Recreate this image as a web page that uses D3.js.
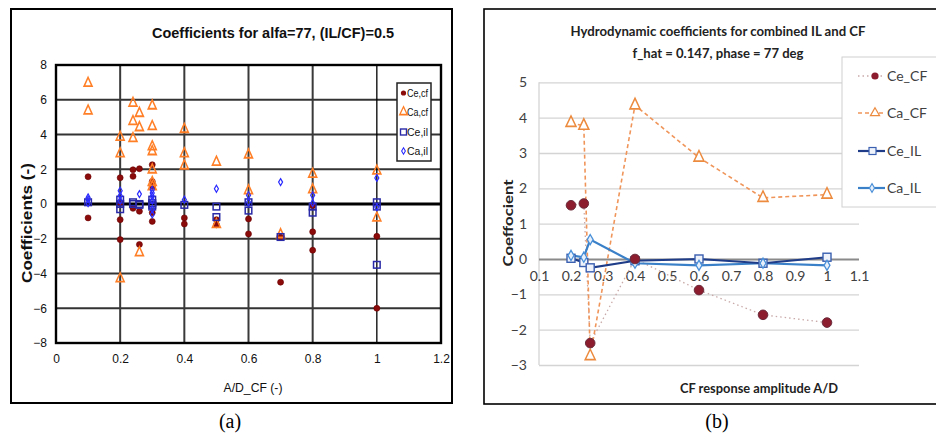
<!DOCTYPE html>
<html><head><meta charset="utf-8">
<script src="https://cdn.jsdelivr.net/npm/d3@7"></script>
<style>body{margin:0;background:#fff}svg{display:block}</style>
</head><body>
<script>
// ---------- Panel (a) data ----------
const aXTicks = [0, 0.2, 0.4, 0.6, 0.8, 1, 1.2];
const aYTicks = [-8, -6, -4, -2, 0, 2, 4, 6, 8];
const aCeCf = [[0.1,1.57],[0.1,-0.8],[0.2,1.51],[0.2,-0.9],[0.2,-2.05],[0.2,0.05],
  [0.24,1.97],[0.24,1.59],[0.24,-0.25],[0.26,2.03],[0.26,-2.33],[0.26,-0.42],
  [0.3,2.26],[0.3,1.3],[0.3,1.0],[0.3,-1.0],[0.3,-0.5],[0.4,-0.8],[0.4,-1.15],
  [0.5,-0.9],[0.5,-1.2],[0.6,-0.86],[0.6,-1.72],[0.7,-4.5],[0.7,-1.9],
  [0.8,-1.6],[0.8,-2.66],[0.8,-0.1],[1.0,-1.86],[1.0,-6.0]];
const aCaCf = [[0.1,6.95],[0.1,5.36],[0.2,3.85],[0.2,2.9],[0.2,-4.3],
  [0.24,5.8],[0.24,4.75],[0.24,3.77],[0.26,5.22],[0.26,4.4],[0.26,-2.8],
  [0.3,5.65],[0.3,4.46],[0.3,3.3],[0.3,3.02],[0.3,1.97],[0.3,1.24],[0.3,1.0],
  [0.4,4.3],[0.4,2.9],[0.4,2.2],[0.5,2.41],[0.5,-1.18],[0.6,2.83],[0.6,0.77],
  [0.7,-1.76],[0.8,1.72],[0.8,0.82],[1.0,1.9],[1.0,-0.8]];
const aCeIl = [[0.1,0.1],[0.2,0.25],[0.2,-0.3],[0.2,0.0],[0.24,0.1],[0.24,0.0],
  [0.26,0.0],[0.26,-0.05],[0.3,0.25],[0.3,0.05],[0.3,-0.15],[0.3,-0.05],
  [0.4,-0.05],[0.5,-0.15],[0.5,-0.75],[0.6,0.1],[0.6,-0.38],[0.7,-1.9],
  [0.8,-0.5],[0.8,-0.15],[1.0,0.1],[1.0,-3.5],[1.0,-0.15]];
const aCaIl = [[0.1,0.38],[0.1,0.25],[0.1,0.05],[0.2,0.76],[0.2,0.48],[0.2,0.2],
  [0.26,0.57],[0.3,0.82],[0.3,0.63],[0.3,0.44],[0.3,0.2],[0.3,-0.3],[0.3,-0.6],
  [0.4,0.25],[0.5,0.88],[0.6,0.5],[0.6,0.1],[0.7,1.26],[0.8,0.5],[0.8,0.05],
  [1.0,1.5],[1.0,-0.17]];
const aLegend = ["Ce,cf", "Ca,cf", "Ce,il", "Ca,il"];

// ---------- Panel (b) data ----------
const bXTicks = [0.1,0.2,0.3,0.4,0.5,0.6,0.7,0.8,0.9,1,1.1];
const bYTicks = [-3,-2,-1,0,1,2,3,4,5];
const bX = [0.2, 0.24, 0.26, 0.4, 0.6, 0.8, 1.0];
const bCeCF = [1.52, 1.57, -2.38, 0.0, -0.88, -1.58, -1.8];
const bCaCF = [3.85, 3.77, -2.75, 4.35, 2.87, 1.73, 1.82];
const bCeIL = [0.02, -0.1, -0.25, -0.05, 0.0, -0.12, 0.05];
const bCaIL = [0.1, 0.05, 0.55, -0.12, -0.18, -0.12, -0.18];
const bLegend = ["Ce_CF", "Ca_CF", "Ce_IL", "Ca_IL"];

const svg = d3.select("body").append("svg").attr("width", 936).attr("height", 435);

// ================= Panel (a) =================
const A = svg.append("g");
A.append("rect").attr("x", 11).attr("y", 9).attr("width", 441).attr("height", 394)
  .attr("fill", "#fff").attr("stroke", "#000").attr("stroke-width", 2);
const xA = d3.scaleLinear().domain([0, 1.2]).range([56, 441]);
const yA = d3.scaleLinear().domain([-8, 8]).range([343, 65]);

// gridlines
A.append("g").selectAll("line").data(aYTicks.filter(d => d > -8 && d < 8)).join("line")
  .attr("x1", xA(0)).attr("x2", xA(1.2)).attr("y1", d => yA(d)).attr("y2", d => yA(d))
  .attr("stroke", d => d === 0 ? "#000" : "#333").attr("stroke-width", d => d === 0 ? 3 : 2);
A.append("g").selectAll("line").data(aXTicks.filter(d => d > 0 && d < 1.2)).join("line")
  .attr("x1", d => xA(d)).attr("x2", d => xA(d)).attr("y1", yA(8)).attr("y2", yA(-8))
  .attr("stroke", d => d === 1 ? "#000" : "#3a3a3a").attr("stroke-width", d => d === 1 ? 1.3 : 2);
A.append("rect").attr("x", xA(0)).attr("y", yA(8)).attr("width", xA(1.2) - xA(0)).attr("height", yA(-8) - yA(8))
  .attr("fill", "none").attr("stroke", "#000").attr("stroke-width", 2.4);

// axes (labels only)
const axAy = A.append("g").attr("transform", `translate(${xA(0)},0)`)
  .call(d3.axisLeft(yA).tickValues(aYTicks).tickSize(0).tickPadding(9).tickFormat(d3.format("d")));
const axAx = A.append("g").attr("transform", `translate(0,${yA(-8)})`)
  .call(d3.axisBottom(xA).tickValues(aXTicks).tickSize(0).tickPadding(11).tickFormat(d => String(d)));
[axAy, axAx].forEach(g => {
  g.select(".domain").remove();
  g.selectAll("text").attr("font-family", "Liberation Sans, Arial, sans-serif").attr("font-size", 12).attr("fill", "#111");
});

// marks
const symTri = d3.symbol().type(d3.symbolTriangle);
A.append("g").selectAll("circle").data(aCeCf).join("circle")
  .attr("cx", d => xA(d[0])).attr("cy", d => yA(d[1])).attr("r", 3)
  .attr("fill", "#8b0a0a").attr("stroke", "#6b0000").attr("stroke-width", 0.6);
A.append("g").selectAll("path").data(aCaCf).join("path")
  .attr("d", symTri.size(34)).attr("transform", d => `translate(${xA(d[0])},${yA(d[1])}) scale(0.9,1.15)`)
  .attr("fill", "none").attr("stroke", "#ff7f27").attr("stroke-width", 1.6);
A.append("g").selectAll("rect").data(aCeIl).join("rect")
  .attr("x", d => xA(d[0]) - 3.3).attr("y", d => yA(d[1]) - 3.3).attr("width", 6.6).attr("height", 6.6)
  .attr("fill", "none").attr("stroke", "#2a2aa8").attr("stroke-width", 1.5);
A.append("g").selectAll("path").data(aCaIl).join("path")
  .attr("d", d3.symbol().type(d3.symbolDiamond).size(14)).attr("transform", d => `translate(${xA(d[0])},${yA(d[1])})`)
  .attr("fill", "none").attr("stroke", "#2b2bff").attr("stroke-width", 1.2);

// legend (a)
const LA = A.append("g");
LA.append("rect").attr("x", 397).attr("y", 83).attr("width", 34).attr("height", 78)
  .attr("fill", "#fff").attr("stroke", "#222").attr("stroke-width", 1.5);
const laY = [93, 112, 132, 151];
aLegend.forEach((t, i) => {
  const cx = 403.5, cy = laY[i];
  if (i === 0) LA.append("circle").attr("cx", cx).attr("cy", cy).attr("r", 2.6).attr("fill", "#8b0a0a");
  if (i === 1) LA.append("path").attr("d", symTri.size(30)).attr("transform", `translate(${cx},${cy}) scale(0.9,1.1)`).attr("fill", "none").attr("stroke", "#ff7f27").attr("stroke-width", 1.4);
  if (i === 2) LA.append("rect").attr("x", cx - 3).attr("y", cy - 3).attr("width", 6).attr("height", 6).attr("fill", "none").attr("stroke", "#2a2aa8").attr("stroke-width", 1.4);
  if (i === 3) LA.append("path").attr("d", d3.symbol().type(d3.symbolDiamond).size(12)).attr("transform", `translate(${cx},${cy})`).attr("fill", "none").attr("stroke", "#2b2bff").attr("stroke-width", 1.1);
  LA.append("text").attr("x", 407).attr("y", cy + 3.5).text(t)
    .attr("font-family", "Liberation Sans, Arial, sans-serif").attr("font-size", 10).attr("fill", "#111")
    .attr("textLength", 21).attr("lengthAdjust", "spacingAndGlyphs");
});

// titles (a)
A.append("text").attr("x", 273).attr("y", 38).attr("text-anchor", "middle").text("Coefficients for alfa=77, (IL/CF)=0.5")
  .attr("font-family", "Liberation Sans, Arial, sans-serif").attr("font-weight", "bold").attr("font-size", 15).attr("fill", "#111")
  .attr("textLength", 242).attr("lengthAdjust", "spacingAndGlyphs");
A.append("text").attr("transform", "translate(32,223) rotate(-90)").attr("text-anchor", "middle").text("Coefficients (-)")
  .attr("font-family", "Liberation Sans, Arial, sans-serif").attr("font-weight", "bold").attr("font-size", 14).attr("fill", "#111")
  .attr("textLength", 120).attr("lengthAdjust", "spacingAndGlyphs");
A.append("text").attr("x", 253).attr("y", 392).attr("text-anchor", "middle").text("A/D_CF (-)")
  .attr("font-family", "Liberation Sans, Arial, sans-serif").attr("font-size", 13).attr("fill", "#111")
  .attr("textLength", 59).attr("lengthAdjust", "spacingAndGlyphs");
svg.append("text").attr("x", 230).attr("y", 428).attr("text-anchor", "middle").text("(a)")
  .attr("font-family", "Liberation Serif, Times New Roman, serif").attr("font-size", 20).attr("fill", "#000");

// ================= Panel (b) =================
const B = svg.append("g");
B.append("rect").attr("x", 484).attr("y", 9).attr("width", 455).attr("height", 395)
  .attr("fill", "#fff").attr("stroke", "#000").attr("stroke-width", 1.6);
const xB = d3.scaleLinear().domain([0.1, 1.1]).range([539, 859]);
const yB = d3.scaleLinear().domain([-3, 5]).range([365, 82.3]);

const grB = B.append("g").attr("transform", `translate(${xB(0.1)},0)`)
  .call(d3.axisLeft(yB).tickValues(bYTicks).tickSize(-(xB(1.1) - xB(0.1))).tickPadding(12).tickFormat(d3.format("d")));
grB.select(".domain").attr("stroke", "#d0d0d0").attr("stroke-width", 1.2).attr("d", `M0,${yB(-3)}V${yB(5)}`);
grB.selectAll(".tick line").attr("stroke", d => d === 0 ? "#8a8a8a" : "#d4d4d4").attr("stroke-width", d => d === 0 ? 2.2 : 1.3);
grB.selectAll("text").attr("font-family", "Lato, Open Sans, sans-serif").attr("font-size", 14).attr("fill", "#404040");

const axBx = B.append("g").attr("transform", `translate(0,${yB(0)})`)
  .call(d3.axisBottom(xB).tickValues(bXTicks).tickSize(0).tickPadding(12).tickFormat(d => String(d)));
axBx.select(".domain").remove();
axBx.selectAll("text").attr("font-family", "Lato, Open Sans, sans-serif").attr("font-size", 14).attr("fill", "#404040");

const pts = arr => bX.map((x, i) => [x, arr[i]]);
const lineB = d3.line().x(d => xB(d[0])).y(d => yB(d[1]));

// lines
B.append("path").attr("d", lineB(pts(bCeCF))).attr("fill", "none").attr("stroke", "#c9a9a9").attr("stroke-width", 1.3).attr("stroke-dasharray", "1.5,3");
B.append("path").attr("d", lineB(pts(bCaCF))).attr("fill", "none").attr("stroke", "#f0955a").attr("stroke-width", 1.6).attr("stroke-dasharray", "4,3");
B.append("path").attr("d", lineB(pts(bCaIL))).attr("fill", "none").attr("stroke", "#3a80c8").attr("stroke-width", 2.2);
B.append("path").attr("d", lineB(pts(bCeIL))).attr("fill", "none").attr("stroke", "#1f3c88").attr("stroke-width", 2.2);

// markers
B.append("g").selectAll("path").data(pts(bCaCF)).join("path")
  .attr("d", symTri.size(48)).attr("transform", d => `translate(${xB(d[0])},${yB(d[1])}) scale(0.95,1.15)`)
  .attr("fill", "#fff").attr("stroke", "#ec8a3e").attr("stroke-width", 1.5);
B.append("g").selectAll("rect").data(pts(bCeIL)).join("rect")
  .attr("x", d => xB(d[0]) - 4).attr("y", d => yB(d[1]) - 4).attr("width", 8).attr("height", 8)
  .attr("fill", "#eef3fb").attr("stroke", "#3a5fb0").attr("stroke-width", 1.4);
B.append("g").selectAll("path").data(pts(bCaIL)).join("path")
  .attr("d", d3.symbol().type(d3.symbolDiamond).size(30)).attr("transform", d => `translate(${xB(d[0])},${yB(d[1])})`)
  .attr("fill", "#e8f1fb").attr("stroke", "#4a90d9").attr("stroke-width", 1.3);
B.append("g").selectAll("circle").data(pts(bCeCF)).join("circle")
  .attr("cx", d => xB(d[0])).attr("cy", d => yB(d[1])).attr("r", 4.8)
  .attr("fill", "#8c1d2e").attr("stroke", "#6a2a3a").attr("stroke-width", 1);

// legend (b)
const LB = B.append("g");
LB.append("rect").attr("x", 842).attr("y", 57).attr("width", 100).attr("height", 150)
  .attr("fill", "#fff").attr("stroke", "#d0d0d0").attr("stroke-width", 1);
const lbY = [76, 113, 151, 188];
bLegend.forEach((t, i) => {
  const y = lbY[i], x1 = 858, x2 = 885, cx = 872;
  const ln = LB.append("line").attr("x1", x1).attr("x2", x2).attr("y1", y).attr("y2", y).attr("fill", "none");
  if (i === 0) { ln.attr("stroke", "#c9a9a9").attr("stroke-width", 1.3).attr("stroke-dasharray", "1.5,3");
    LB.append("circle").attr("cx", cx + 3).attr("cy", y).attr("r", 3.6).attr("fill", "#8c1d2e"); }
  if (i === 1) { ln.attr("stroke", "#f0955a").attr("stroke-width", 1.5).attr("stroke-dasharray", "4,3");
    LB.append("path").attr("d", symTri.size(36)).attr("transform", `translate(${cx + 3},${y})`).attr("fill", "#fff").attr("stroke", "#ec8a3e").attr("stroke-width", 1.2); }
  if (i === 2) { ln.attr("stroke", "#1f3c88").attr("stroke-width", 2.2);
    LB.append("rect").attr("x", cx - 3).attr("y", y - 3.5).attr("width", 7).attr("height", 7).attr("fill", "#eef3fb").attr("stroke", "#3a5fb0").attr("stroke-width", 1.2); }
  if (i === 3) { ln.attr("stroke", "#3a80c8").attr("stroke-width", 2.2);
    LB.append("path").attr("d", d3.symbol().type(d3.symbolDiamond).size(22)).attr("transform", `translate(${cx},${y})`).attr("fill", "#e8f1fb").attr("stroke", "#4a90d9").attr("stroke-width", 1.1); }
  LB.append("text").attr("x", 887).attr("y", y + 5).text(t)
    .attr("font-family", "Lato, Open Sans, sans-serif").attr("font-size", 14).attr("fill", "#404040");
});

// titles (b)
const tf = "Lato, Open Sans, sans-serif";
B.append("text").attr("x", 718).attr("y", 36).attr("text-anchor", "middle").text("Hydrodynamic coefficients for combined IL and CF")
  .attr("font-family", tf).attr("font-weight", "bold").attr("font-size", 14).attr("fill", "#222")
  .attr("textLength", 295).attr("lengthAdjust", "spacingAndGlyphs");
B.append("text").attr("x", 718).attr("y", 58).attr("text-anchor", "middle").text("f_hat = 0.147, phase = 77 deg")
  .attr("font-family", tf).attr("font-weight", "bold").attr("font-size", 14).attr("fill", "#222")
  .attr("textLength", 171).attr("lengthAdjust", "spacingAndGlyphs");
B.append("text").attr("transform", "translate(513,223) rotate(-90)").attr("text-anchor", "middle").text("Coeffocient")
  .attr("font-family", tf).attr("font-weight", "bold").attr("font-size", 14).attr("fill", "#222")
  .attr("textLength", 87).attr("lengthAdjust", "spacingAndGlyphs");
B.append("text").attr("x", 759).attr("y", 393).attr("text-anchor", "middle").text("CF response amplitude A/D")
  .attr("font-family", tf).attr("font-weight", "bold").attr("font-size", 14).attr("fill", "#222")
  .attr("textLength", 158).attr("lengthAdjust", "spacingAndGlyphs");
svg.append("text").attr("x", 717).attr("y", 428).attr("text-anchor", "middle").text("(b)")
  .attr("font-family", "Liberation Serif, Times New Roman, serif").attr("font-size", 20).attr("fill", "#000");
</script>
</body></html>
